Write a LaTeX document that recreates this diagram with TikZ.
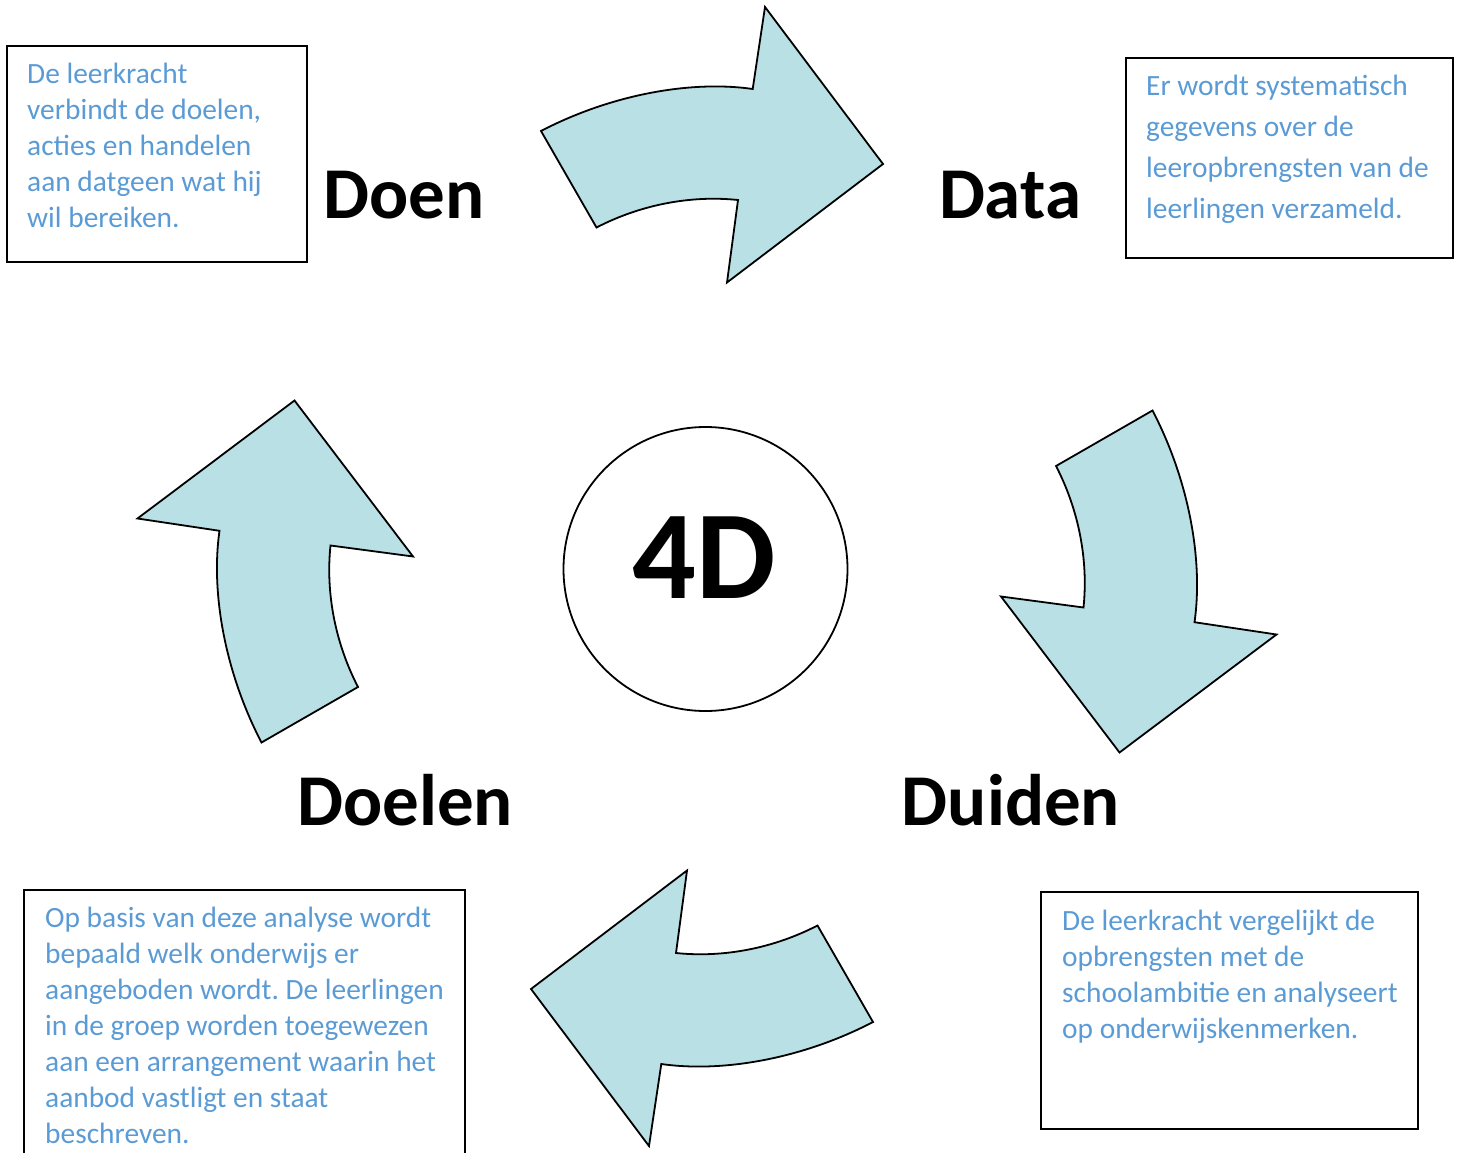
\documentclass[tikz,border=0pt]{standalone}
\usepackage{fontspec}
\setmainfont{Carlito}
\definecolor{infoblue}{HTML}{5B9BD5}
\definecolor{arrowfill}{HTML}{B9E0E4}

\begin{document}
\begin{tikzpicture}[x=1pt,y=-1pt,
    turn/.style={fill=arrowfill,draw=black,line width=1.8pt,line join=miter},
    infobox/.style={draw=black,line width=2pt,anchor=north west,inner sep=0pt},
    infotext/.style={text=infoblue,align=left,anchor=base west,inner sep=0pt,font=\fontsize{29.4}{36}\selectfont\frenchspacing},
    stage/.style={anchor=base,inner sep=0pt,font=\fontsize{73}{80}\selectfont\bfseries},
    bentarrow/.pic={
        \draw[turn] (-166,-445.5) .. controls (-97,-481.5) and (-17,-496.5) .. (45.7,-487.5)
            -- (58,-569.5) -- (176,-412.5) -- (20,-294) -- (31,-376.5)
            .. controls (-17,-381.5) and (-67,-371.5) .. (-110.5,-349) -- cycle;
    }]
    \useasboundingbox (0,0) rectangle (1459,1153);
    \coordinate (pivot) at (707,576.5);

    \pic (todata) at (pivot) {bentarrow};
    \pic[rotate=-90] (toduiden) at (pivot) {bentarrow};
    \pic[rotate=180] (todoelen) at (pivot) {bentarrow};
    \pic[rotate=90] (todoen) at (pivot) {bentarrow};

    \node[draw,circle,line width=1.8pt,minimum size=284pt,inner sep=0pt] (hub) at (705.5,569) {};
    \node[anchor=base,inner sep=0pt,font=\fontsize{126}{130}\selectfont\bfseries] (fourd) at (704,598) {4D};

    \node[stage] (doen) at (404,218) {Doen};
    \node[stage] (data) at (1010,218) {Data};
    \node[stage] (doelen) at (405,825) {Doelen};
    \node[stage] (duiden) at (1011,825) {Duiden};

    \node[infobox,minimum width=300pt,minimum height=216pt] (doenbox) at (6,45) {};
    \node[infotext] (doentext) at (27,227) {De leerkracht\\verbindt de doelen,\\acties en handelen\\aan datgeen wat hij\\wil bereiken.};

    \node[infobox,minimum width=327.5pt,minimum height=199.5pt] (databox) at (1124.5,57) {};
    \node[infotext,font=\fontsize{29.4}{41}\selectfont] (datatext) at (1146,218) {Er wordt systematisch\\gegevens over de\\leeropbrengsten van de\\leerlingen verzameld.};

    \node[infobox,minimum width=441pt,minimum height=281pt] (doelenbox) at (23,889) {};
    \node[infotext] (doelentext) at (45,1143) {Op basis van deze analyse wordt\\bepaald welk onderwijs er\\aangeboden wordt. De leerlingen\\in de groep worden toegewezen\\aan een arrangement waarin het\\aanbod vastligt en staat\\beschreven.};

    \node[infobox,minimum width=377pt,minimum height=237pt] (duidenbox) at (1040,891) {};
    \node[infotext] (duidentext) at (1062,1038) {De leerkracht vergelijkt de\\opbrengsten met de\\schoolambitie en analyseert\\op onderwijskenmerken.};
\end{tikzpicture}
\end{document}
